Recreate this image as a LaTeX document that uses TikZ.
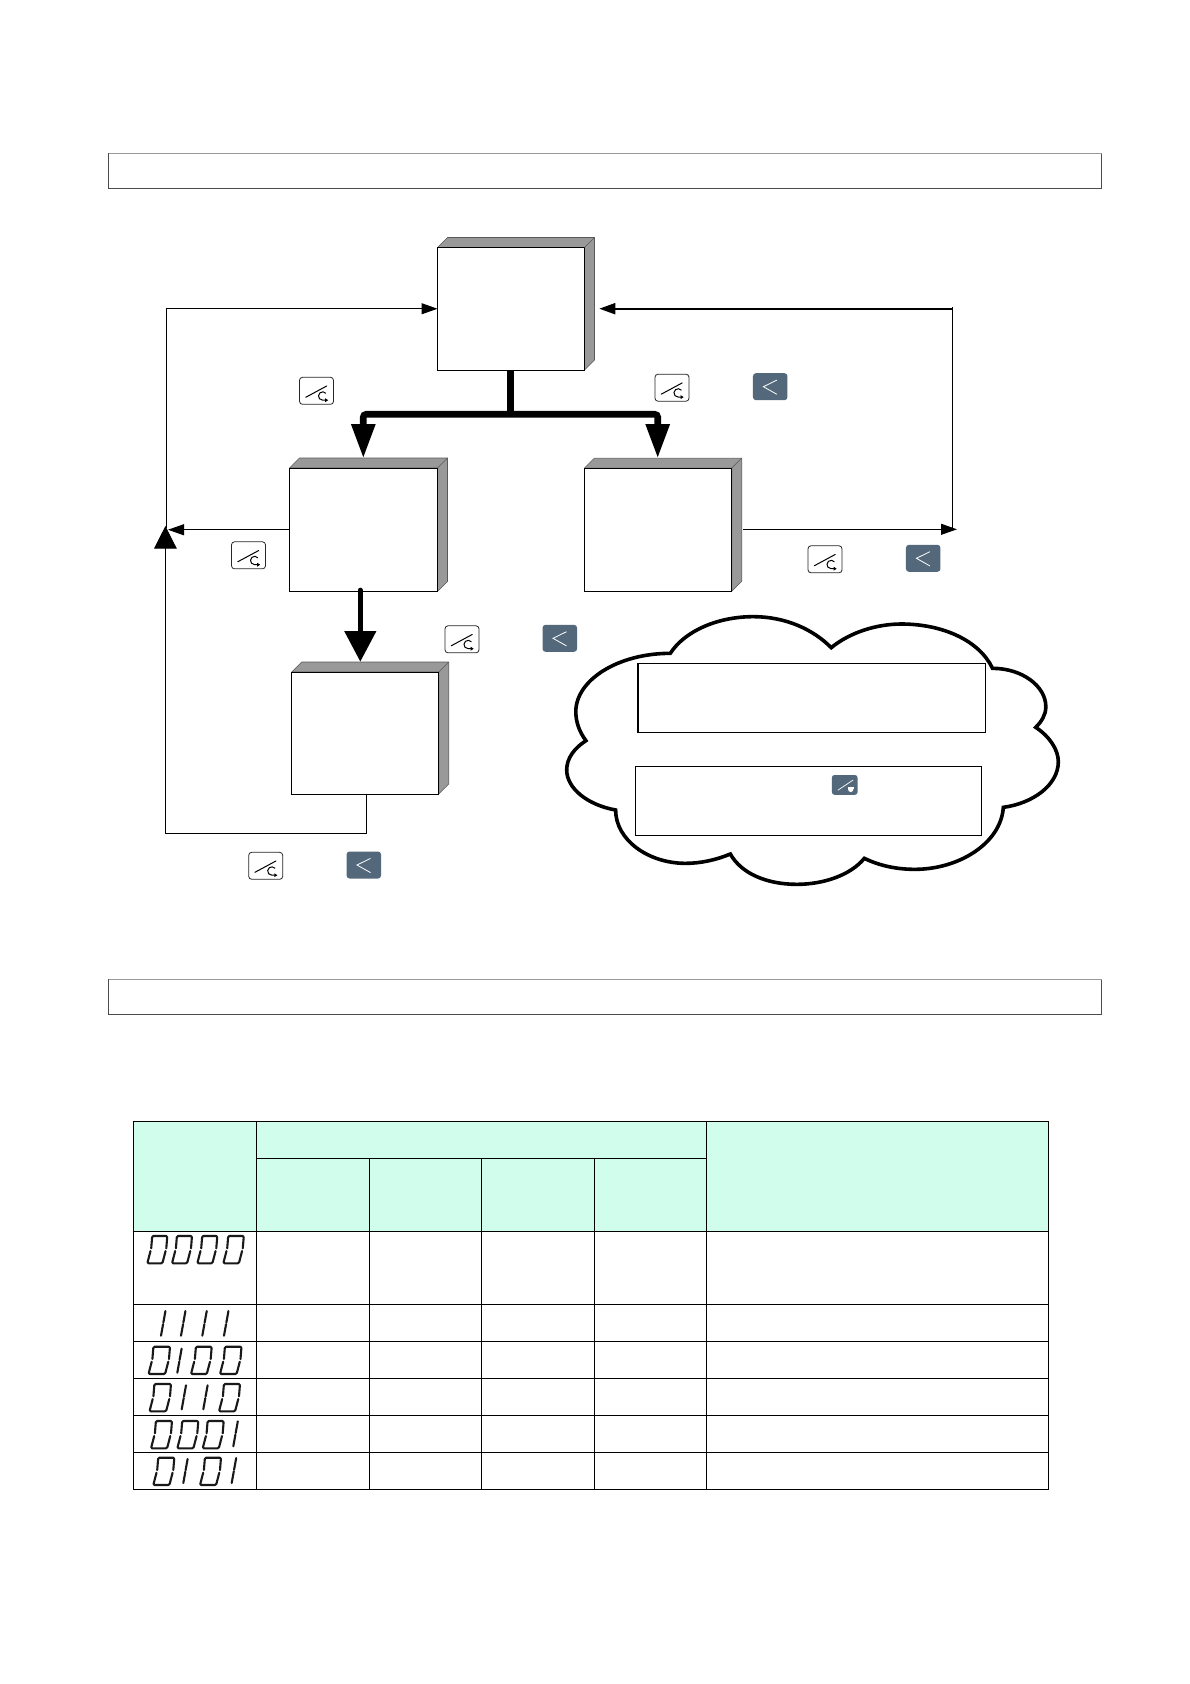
\documentclass[tikz,border=0pt]{standalone}
\usetikzlibrary{arrows.meta}
\definecolor{keydarkcol}{RGB}{83,105,123}
\definecolor{headcol}{RGB}{209,253,236}
\definecolor{sidecol}{RGB}{153,153,153}
\tikzset{
  frontbox/.style={draw=black,fill=white,line width=1pt,inner sep=0pt,outer sep=0pt},
  sideface/.style={fill=sidecol,draw=black!65,line width=.6pt,line join=round},
  barbox/.style={draw=black!70,fill=white,line width=.9pt,inner sep=0pt,outer sep=0pt,minimum width=993pt,minimum height=35pt},
  thinline/.style={draw=black,line width=1pt},
  smallhead/.style={-{Triangle[length=16pt,width=11pt]}},
  keywhite/.style={draw=black!85,fill=white,rounded corners=3pt,line width=.8pt,minimum width=34pt,minimum height=27pt,inner sep=0pt,outer sep=0pt},
  keydark/.style={fill=keydarkcol,rounded corners=3pt,minimum width=34.5pt,minimum height=27pt,inner sep=0pt,outer sep=0pt},
  keysmall/.style={fill=keydarkcol,rounded corners=2.5pt,minimum width=25.6pt,minimum height=19.7pt,inner sep=0pt,outer sep=0pt},
  notebox/.style={draw=black,fill=white,line width=1pt,inner sep=0pt,outer sep=0pt},
  gridline/.style={draw=black,line width=1pt},
  segment/.style={draw=black!90,line width=2.1pt,line cap=round,line join=round,rounded corners=1.2pt},
}
% three-dimensional box: name, centre x, centre y, width, height
\newcommand\solidbox[5]{%
  \fill[sideface] (#2-#4/2,#3-#5/2) -- ++(10,-10) -- ++(#4,0) -- ++(0,#5) -- ++(-10,10) -- ++(0,-#5) -- cycle;
  \node[frontbox,minimum width=#4pt,minimum height=#5pt] (#1) at (#2,#3) {};
  \draw[sideface,fill=none] (#1.north east) -- ++(10,-10);
}
\newcommand\whitekey[3]{%
  \node[keywhite] (#1) at (#2,#3) {};
  \draw[line width=1pt,line cap=round] ([shift={(-10.8,6.5)}]#1.center) -- ([shift={(10.2,-4.8)}]#1.center);
  \draw[line width=1pt,-{Triangle[length=3pt,width=3.6pt]}] ([shift={(9.4,2.5)}]#1.center) arc[start angle=40,end angle=270,radius=4.2pt] -- ++(5.5,0);
}
\newcommand\darkkey[3]{%
  \node[keydark] (#1) at (#2,#3) {};
  \draw[white,line width=.8pt,line cap=round,line join=miter] ([shift={(6.5,-6.5)}]#1.center) -- ([shift={(-6.8,0)}]#1.center) -- ([shift={(6.5,7.5)}]#1.center);
}
% seven segment digits: left x, bottom y, width, height
\newcommand\dzero[4]{%
  \draw[segment] (#1+0.13*#4*0.9,#2-0.45*#4) -- (#1,#2) -- (#1+#3-0.18*#4,#2) -- (#1+#3-0.18*#4+0.13*#4*0.9,#2-0.45*#4);
  \draw[segment] (#1+0.13*#4*1.1,#2-0.55*#4) -- (#1+0.18*#4,#2-#4) -- (#1+#3,#2-#4) -- (#1+#3-0.18*#4+0.13*#4*1.1,#2-0.55*#4);
}
\newcommand\done[3]{%
  \draw[segment] (#1,#2) -- (#1+0.085*#3,#2-0.47*#3);
  \draw[segment] (#1+0.095*#3,#2-0.53*#3) -- (#1+0.18*#3,#2-#3);
}
\begin{document}
\begin{tikzpicture}[x=1pt,y=-1pt]
\useasboundingbox (0,0) rectangle (1190,1684);
\fill[white] (0,0) rectangle (1190,1684);

% section bars
\node[barbox] (bartop) at (605,171) {};
\draw[black!40,line width=.9pt] (bartop.north west) -- (bartop.north east);
\node[barbox] (barlow) at (605,997.2) {};
\draw[black!40,line width=.9pt] (barlow.north west) -- (barlow.north east);

% boxes
\solidbox{boxA}{511}{308.75}{147}{122.5}
\solidbox{boxB}{363.5}{529.75}{148}{123.5}
\solidbox{boxC}{658.1}{529.7}{147.2}{123.3}
\solidbox{boxD}{365.2}{733}{147}{122}

% junction coordinates
\coordinate (leftA) at (166.3,308.75);
\coordinate (leftJ) at (166.3,528);
\coordinate (leftTip) at (168,529.75);
\coordinate (upTip) at (165.4,526);
\coordinate (downC) at (165.4,833.3);
\coordinate (downD) at (366.7,833.3);
\coordinate (outD) at (366.7,794);
\coordinate (rightCorner) at (952.3,308.7);
\coordinate (rightLow) at (952.3,530);
\coordinate (rightTip) at (599.3,308.7);
\coordinate (outC) at (743.3,529.3);
\coordinate (outCtip) at (957,529.3);
\coordinate (rightTop) at (952.3,307);
\coordinate (stemTop) at (510.7,370);
\coordinate (stemMid) at (510.7,414.3);
\coordinate (tipL) at (363.3,458.3);
\coordinate (tipR) at (657.7,458.3);
\coordinate (cornerL) at (363.3,414.3);
\coordinate (cornerR) at (657.7,414.3);
\coordinate (lowStem) at (360.3,590);
\coordinate (lowTip) at (360.3,661.7);

% thin connectors
\draw[thinline,smallhead] (leftJ) -- (leftA) -- (boxA.west);
\draw[thinline,smallhead] (boxB.west) -- (leftTip);
\draw[thinline,-{Triangle[length=22.7pt,width=22.7pt]}] (outD) -- (downD) -- (downC) -- (upTip);
\draw[thinline,line width=2pt,smallhead] (rightCorner) -- (rightTip);
\draw[thinline] (rightTop) -- (rightLow);
\draw[thinline,smallhead] (outC) -- (outCtip);

% thick connectors
\draw[line width=6.7pt] (stemTop) -- (stemMid);
\draw[line width=6.7pt,rounded corners=3pt,{Triangle[length=34.3pt,width=22.7pt]}-{Triangle[length=34.3pt,width=22.7pt]}] (tipL) -- (cornerL) -- (cornerR) -- (tipR);
\draw[line width=4.7pt,line cap=round,-{Triangle[length=30.7pt,width=31pt]}] (lowStem) -- (lowTip);

% keys
\whitekey{k1}{316.5}{390.8}
\whitekey{k2}{248.5}{555.3}
\whitekey{k3}{672}{387.7}
\whitekey{k4}{825}{559.3}
\whitekey{k5}{462}{639.3}
\whitekey{k6}{265.7}{865.8}
\darkkey{d1}{770.2}{386.7}
\darkkey{d2}{923.2}{558.3}
\darkkey{d3}{559.8}{638.3}
\darkkey{d4}{363.8}{865}

% cloud
\begin{scope}[shift={(550.5,600)},x=0.33741pt,y=-0.33333pt]
\draw[line width=3.6pt,line join=miter,fill=white] (355,160)
 .. controls (400,90) and (500,50) .. (600,50)
 .. controls (700,50) and (780,90) .. (832,143)
 .. controls (890,95) and (970,72) .. (1040,72)
 .. controls (1160,72) and (1270,120) .. (1310,205)
 .. controls (1400,205) and (1468,260) .. (1468,320)
 .. controls (1468,345) and (1455,365) .. (1438,382)
 .. controls (1480,410) and (1505,450) .. (1505,485)
 .. controls (1505,555) and (1430,610) .. (1342,622)
 .. controls (1335,730) and (1210,808) .. (1080,808)
 .. controls (1025,808) and (975,797) .. (930,775)
 .. controls (890,825) and (810,853) .. (730,853)
 .. controls (640,853) and (565,820) .. (533,762)
 .. controls (490,780) and (445,790) .. (400,790)
 .. controls (290,790) and (193,720) .. (193,630)
 .. controls (110,615) and (48,565) .. (48,510)
 .. controls (48,475) and (70,445) .. (105,422)
 .. controls (85,395) and (75,365) .. (75,335)
 .. controls (75,240) and (200,160) .. (355,160) -- cycle;
\end{scope}
\node[notebox,minimum width=347.6pt,minimum height=69pt] (note1) at (811.5,697.8) {};
\draw[line width=2pt] (note1.north west) -- (note1.south west);
\node[notebox,minimum width=345.6pt,minimum height=69pt] (note2) at (808.5,800.8) {};
\node[keysmall] (k7) at (844.7,784.9) {};
\draw[white,line width=.7pt,line cap=round] ([shift={(-6.7,5.2)}]k7.center) -- ([shift={(8.3,-4.8)}]k7.center);
\fill[white] ([shift={(6,4.5)}]k7.center) circle[radius=2.6pt];
\fill[white] ([shift={(3,1.6)}]k7.center) rectangle ([shift={(9,4)}]k7.center);

% table
\fill[headcol] (133.7,1121.7) rectangle (1048.3,1231.3);
\draw[gridline] (133.7,1121.7) rectangle (1048.3,1489.3);
\draw[gridline] (256.3,1121.7) -- (256.3,1489.3);
\draw[gridline] (706.2,1121.7) -- (706.2,1489.3);
\draw[gridline] (369.3,1158.3) -- (369.3,1489.3);
\draw[gridline] (481.5,1158.3) -- (481.5,1489.3);
\draw[gridline] (594,1158.3) -- (594,1489.3);
\draw[gridline] (256.3,1158.3) -- (706.2,1158.3);
\foreach \yy in {1231.3,1304.3,1341.3,1378.3,1415.3,1452.3}
  \draw[gridline] (133.7,\yy) -- (1048.3,\yy);

% digits
\dzero{147.3}{1263.3}{20}{27.3}
\dzero{172}{1263.3}{20}{27.3}
\dzero{197.3}{1263.3}{20}{27.3}
\dzero{223.3}{1263.3}{20.5}{27.3}
\done{161}{1335.7}{24.7}
\done{181}{1335.7}{24.7}
\done{202.3}{1335.7}{24.7}
\done{224}{1335.7}{24.7}
\dzero{148.5}{1374}{21.5}{27.3}
\done{177.3}{1372.7}{24}
\dzero{191}{1374}{20.7}{27.3}
\dzero{220}{1374}{21.5}{27.3}
\dzero{149.5}{1411.3}{21.5}{27.3}
\done{181.7}{1409.3}{24}
\done{203.3}{1409.3}{24}
\dzero{219}{1411.3}{21}{27.3}
\dzero{151}{1448.3}{21}{27.3}
\dzero{177.3}{1448.3}{21}{27.3}
\dzero{202.7}{1448.3}{21}{27.3}
\done{233.3}{1446.3}{25}
\dzero{153.3}{1485}{21}{27.3}
\done{183.3}{1483}{24}
\dzero{200}{1485}{21}{27.3}
\done{231.7}{1483}{25}
\end{tikzpicture}
\end{document}
